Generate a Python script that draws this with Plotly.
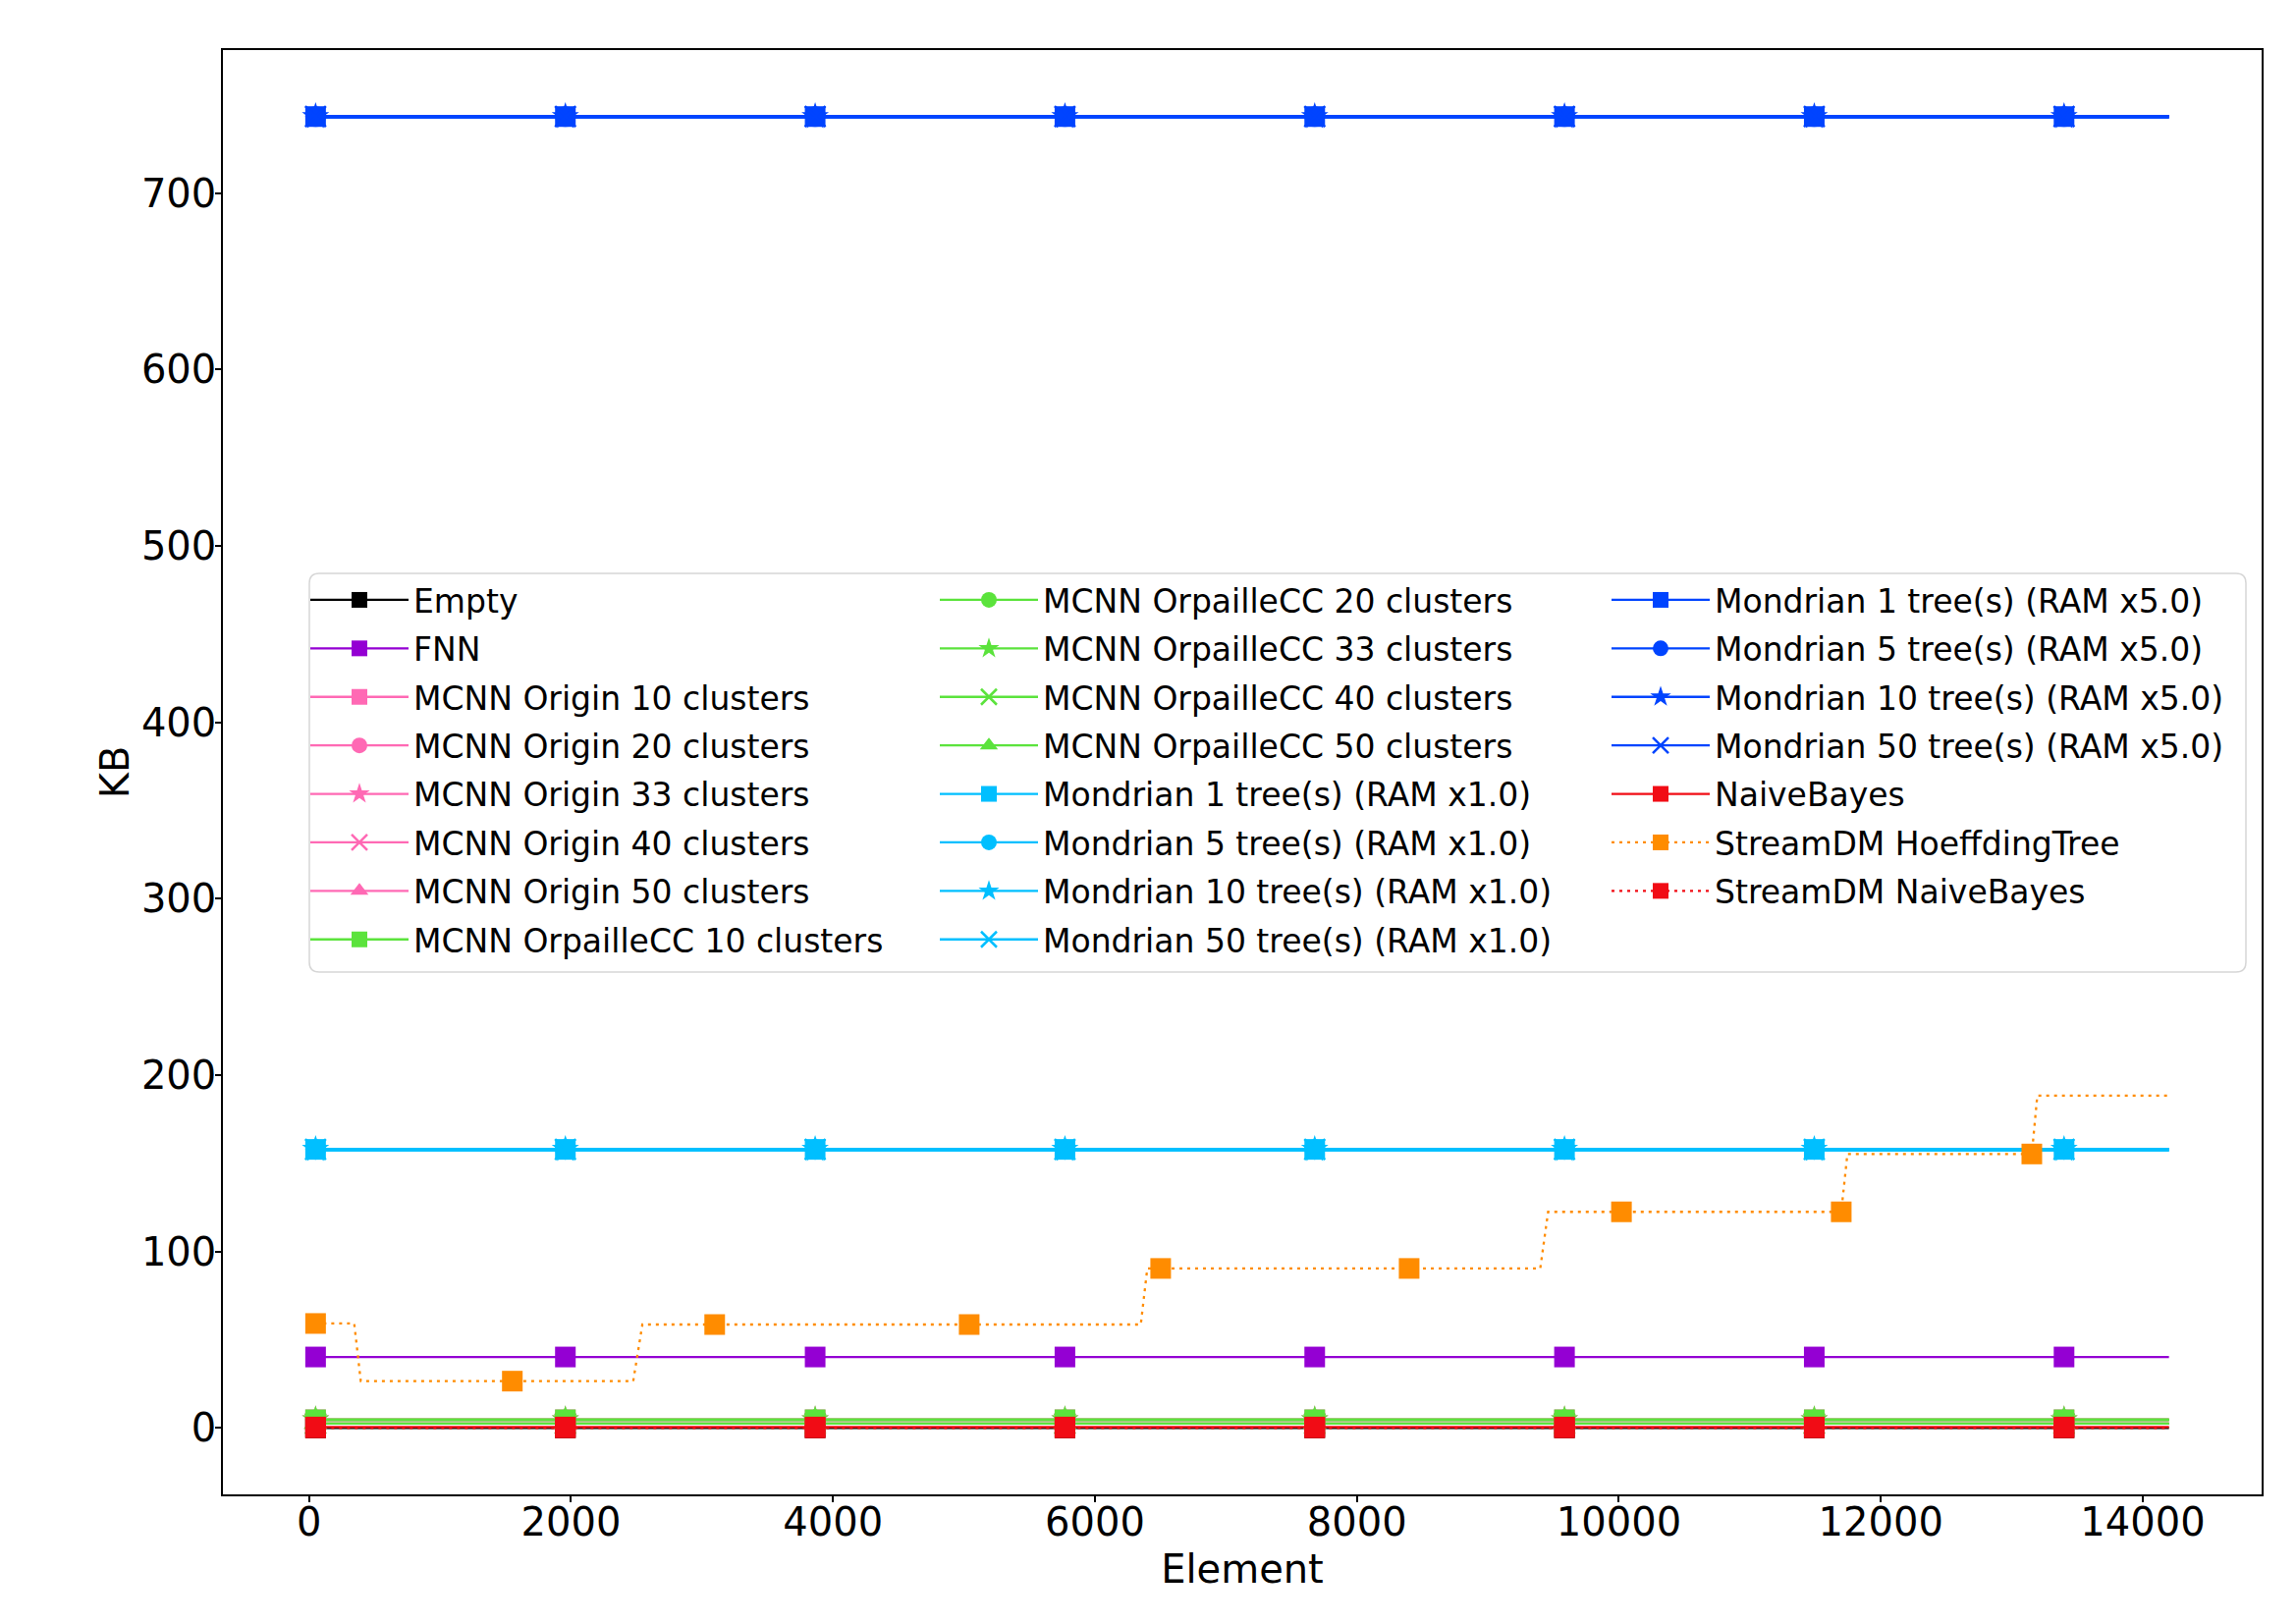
import plotly.graph_objects as go

# Elements at which the (constant) curves carry a marker, and where they end
marker_elements = [50, 1957, 3864, 5771, 7678, 9585, 11492, 13399]
last_element = 14200

series_names = [
    "Empty",
    "FNN",
    "MCNN Origin 10 clusters",
    "MCNN Origin 20 clusters",
    "MCNN Origin 33 clusters",
    "MCNN Origin 40 clusters",
    "MCNN Origin 50 clusters",
    "MCNN OrpailleCC 10 clusters",
    "MCNN OrpailleCC 20 clusters",
    "MCNN OrpailleCC 33 clusters",
    "MCNN OrpailleCC 40 clusters",
    "MCNN OrpailleCC 50 clusters",
    "Mondrian 1 tree(s) (RAM x1.0)",
    "Mondrian 5 tree(s) (RAM x1.0)",
    "Mondrian 10 tree(s) (RAM x1.0)",
    "Mondrian 50 tree(s) (RAM x1.0)",
    "Mondrian 1 tree(s) (RAM x5.0)",
    "Mondrian 5 tree(s) (RAM x5.0)",
    "Mondrian 10 tree(s) (RAM x5.0)",
    "Mondrian 50 tree(s) (RAM x5.0)",
    "NaiveBayes",
    "StreamDM HoeffdingTree",
    "StreamDM NaiveBayes",
]

# memory (KB) of the flat curves, None for the HoeffdingTree which changes
series_kb = [
    0.0, 40.2,
    4.6, 4.6, 4.6, 2.4, 2.4,
    4.6, 4.6, 4.6, 2.4, 2.4,
    157.9, 157.9, 157.9, 157.9,
    743.5, 743.5, 743.5, 743.5,
    0.5, None, 0.0,
]

# StreamDM HoeffdingTree
hoeffding_elements = [50, 345, 395, 1552, 2475, 2545, 3097, 5040, 6350, 6400,
                      6502, 8399, 9400, 9460, 10020, 11698, 11745, 13153, 13195, 14200]
hoeffding_kb = [59.2, 59.2, 26.5, 26.5, 26.5, 58.6, 58.6, 58.6, 58.6, 90.4,
                90.4, 90.4, 90.4, 122.5, 122.5, 122.5, 155.3, 155.3, 188.4, 188.4]
hoeffding_marked = [1, 0, 0, 1, 0, 0, 1, 1, 0, 0,
                    1, 1, 0, 0, 1, 1, 0, 1, 0, 0]

BLACK = "#000000"
PURPLE = "#9400d3"
PINK = "#ff69b4"
GREEN = "#5be33c"
CYAN = "#00bfff"
BLUE = "#0044ff"
RED = "#f10c15"
ORANGE = "#ff8c00"

colors = [BLACK, PURPLE] + [PINK] * 5 + [GREEN] * 5 + [CYAN] * 4 + [BLUE] * 4 + [RED, ORANGE, RED]
cycle = ["square", "circle", "star", "x-thin", "triangle-up"]
symbols = (["square", "square"] + cycle + cycle + cycle[:4] + cycle[:4]
           + ["square", "square", "square"])
dashes = ["solid"] * 21 + ["3px,5px", "3px,5px"]
widths = [2.3] * 12 + [3.5] * 8 + [2.3] * 3

MS = 21

fig = go.Figure()

for i, name in enumerate(series_names):
    if series_kb[i] is None:
        xs = hoeffding_elements
        ys = hoeffding_kb
        sizes = [MS if m else 0 for m in hoeffding_marked]
    else:
        xs = marker_elements + [last_element]
        ys = [series_kb[i]] * len(xs)
        sizes = [MS] * len(marker_elements) + [0]

    if symbols[i] == "x-thin":
        mline = dict(width=2.5, color=colors[i])
    else:
        mline = dict(width=0)

    fig.add_trace(
        go.Scatter(
            x=xs,
            y=ys,
            mode="lines+markers",
            name=name,
            line=dict(color=colors[i], width=widths[i], dash=dashes[i]),
            marker=dict(symbol=symbols[i], size=sizes, color=colors[i],
                        opacity=1, line=mline),
            showlegend=False,
        )
    )

# legend entries, three columns like the original
for i, name in enumerate(series_names):
    if i < 8:
        leg = "legend"
    elif i < 16:
        leg = "legend2"
    else:
        leg = "legend3"
    if symbols[i] == "x-thin":
        mline = dict(width=2.5, color=colors[i])
    else:
        mline = dict(width=0)
    fig.add_trace(
        go.Scatter(
            x=[None],
            y=[None],
            mode="lines+markers",
            name=name,
            legend=leg,
            legendgroup=name,
            legendrank=i,
            line=dict(color=colors[i], width=2.3, dash=dashes[i]),
            marker=dict(symbol=symbols[i], size=16, color=colors[i], line=mline),
        )
    )

W, H = 2338, 1653
ml, mr, mt, mb = 219, 43, 43, 139
pw = W - ml - mr
ph = H - mt - mb


def px_x(p):
    return (p - ml) / pw


def px_y(p):
    return (H - mb - p) / ph


legend_style = dict(
    xanchor="left",
    yanchor="top",
    bgcolor="rgba(0,0,0,0)",
    borderwidth=0,
    font=dict(family="DejaVu Sans", size=33, color="black"),
    itemwidth=100,
    tracegroupgap=3.5,
    orientation="v",
)

# rounded legend frame
fx0, fx1 = px_x(307), px_x(2279)
fy0, fy1 = px_y(982), px_y(576)
rx, ry = 10 / pw, 10 / ph
frame = (
    f"M{fx0 + rx},{fy1} L{fx1 - rx},{fy1} Q{fx1},{fy1} {fx1},{fy1 - ry} "
    f"L{fx1},{fy0 + ry} Q{fx1},{fy0} {fx1 - rx},{fy0} "
    f"L{fx0 + rx},{fy0} Q{fx0},{fy0} {fx0},{fy0 + ry} "
    f"L{fx0},{fy1 - ry} Q{fx0},{fy1} {fx0 + rx},{fy1} Z"
)

fig.update_layout(
    width=W,
    height=H,
    margin=dict(l=ml, r=mr, t=mt, b=mb),
    paper_bgcolor="white",
    plot_bgcolor="white",
    font=dict(family="DejaVu Sans", size=40, color="black"),
    legend=dict(x=px_x(303), y=px_y(575), **legend_style),
    legend2=dict(x=px_x(944), y=px_y(575), **legend_style),
    legend3=dict(x=px_x(1628), y=px_y(575), **legend_style),
    shapes=[
        dict(
            type="path",
            path=frame,
            xref="paper",
            yref="paper",
            line=dict(color="#d6d6d6", width=1.5),
            fillcolor="white",
            layer="below",
        )
    ],
)

axis_style = dict(
    showline=True,
    mirror=True,
    linecolor="black",
    linewidth=1.5,
    ticks="outside",
    ticklen=6,
    tickwidth=1.5,
    tickcolor="black",
    showgrid=False,
    zeroline=False,
    tickfont=dict(family="DejaVu Sans", size=40, color="black"),
)

fig.update_xaxes(
    range=[-657.5, 14907.5],
    tick0=0,
    dtick=2000,
    tickformat="d",
    ticklabelstandoff=-14,
    title=dict(text="Element", font=dict(size=40), standoff=12),
    **axis_style,
)
fig.update_yaxes(
    range=[-37.7, 781.2],
    tick0=0,
    dtick=100,
    tickformat="d",
    ticklabelstandoff=-9,
    title=dict(text="KB", font=dict(size=40), standoff=0),
    **axis_style,
)

fig.write_html("out.html")
